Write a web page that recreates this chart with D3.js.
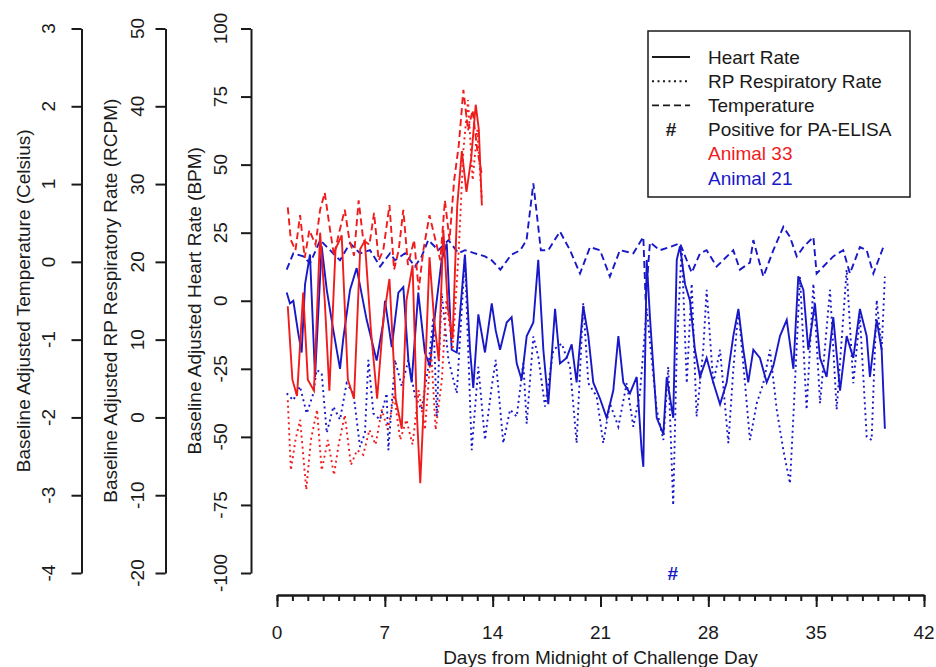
<!DOCTYPE html>
<html>
<head>
<meta charset="utf-8">
<script src="https://cdn.jsdelivr.net/npm/d3@7"></script>
<style>
	body { margin: 0; background: #fff; }
	svg { font-family: "Liberation Sans", Arial, sans-serif; }
</style>
</head>
<body>
<svg id="chart" width="936" height="667"></svg>
<script>

// tick values for the four axes
const dayTicks = [0, 7, 14, 21, 28, 35, 42];
const hrTicks = [-100, -75, -50, -25, 0, 25, 50, 75, 100];
const rrTicks = [-20, -10, 0, 10, 20, 30, 40, 50];
const tempTicks = [-4, -3, -2, -1, 0, 1, 2, 3];

// Animal 21 (blue) : [day, value]
const hr21 = [[0.63,3],[0.84,-1],[1.06,0],[1.38,-12],[1.6,-19],[1.82,6],[2.14,17],[2.47,-28],[2.9,20],[3.23,4],[3.66,-11],[4.09,-25],[4.3,-14],[4.74,4],[5.17,12],[5.82,-7],[6.47,-22],[6.9,-8],[7.01,0],[7.45,-17],[7.88,3],[8.2,5],[8.53,-22],[8.74,-30],[9.17,3],[9.6,-19],[9.93,-24],[10.26,-5],[10.69,15],[11.02,21],[11.34,-18],[11.67,-19],[12.2,17],[12.53,-18],[12.74,-32],[13.07,-5],[13.5,-19],[13.94,-1],[14.2,-11],[14.48,-18],[14.91,-8],[15.23,-6],[15.56,-23],[15.88,-29],[16.21,-13],[16.64,-8],[16.96,15],[17.29,-18],[17.61,-38],[18.05,-3],[18.37,-23],[18.8,-21],[19.13,-16],[19.45,-30],[19.88,-2],[20.21,-13],[20.53,-30],[20.97,-36],[21.4,-43],[21.83,-33],[22.16,-13],[22.48,-30],[22.91,-34],[23.35,-28],[23.67,-55],[23.78,-61],[24.0,15],[24.21,-6],[24.65,-43],[25.08,-49],[25.3,-28],[25.72,-43],[25.95,15],[26.16,20],[26.49,6],[26.81,0],[27.13,-18],[27.46,-28],[27.89,-21],[28.32,-30],[28.76,-38],[29.19,-30],[29.62,-13],[29.95,-3],[30.27,-18],[30.59,-30],[30.92,-18],[31.35,-21],[31.79,-30],[32.22,-24],[32.65,-13],[33.09,-7],[33.52,-25],[33.84,9],[34.17,4],[34.49,-18],[34.92,-1],[35.25,-21],[35.68,-28],[36.11,-6],[36.55,-33],[36.98,-13],[37.41,-21],[37.84,-3],[38.28,-13],[38.49,-28],[38.93,-7],[39.25,-18],[39.46,-47]];

const rr21 = [[0.63,3.1],[1.06,2.2],[1.49,4.0],[1.93,0.5],[2.36,3.1],[2.57,6.1],[2.9,5.7],[3.23,-2.0],[3.66,1.4],[4.09,-0.3],[4.52,4.4],[4.96,3.1],[5.39,-3.8],[5.71,-2.0],[5.93,7.4],[6.26,0.5],[6.69,-0.3],[7.12,3.1],[7.23,-4.2],[7.66,7.4],[8.1,4.0],[8.53,7.4],[8.96,2.7],[9.39,1.0],[9.82,6.5],[10.15,12.9],[10.37,0.1],[10.69,16],[11.13,7.4],[11.67,3.1],[12.2,20.7],[12.64,-4.2],[13.07,6.5],[13.5,-2.9],[13.94,4.0],[14.2,7.4],[14.69,-3.3],[15.13,1.0],[15.56,0.1],[15.99,7.0],[16.21,-0.8],[16.64,10.4],[16.96,7.8],[17.4,1.4],[17.94,8.7],[18.48,9.5],[19.02,6.5],[19.45,-3.3],[19.88,14.7],[20.21,4.4],[20.75,2.7],[21.18,-3.3],[21.61,1.8],[22.16,-1.2],[22.7,4.4],[23.13,-1.2],[23.56,3.1],[24.0,14],[24.65,1.0],[25.08,-2.9],[25.4,6.5],[25.72,-11.3],[25.95,8.7],[26.27,22],[26.6,4.4],[26.92,17.2],[27.24,0.1],[27.67,8.7],[27.89,16.4],[28.32,4.4],[28.76,8.7],[29.3,-3.3],[29.62,6.1],[29.95,13.8],[30.38,4.4],[30.7,-2.9],[31.14,1.8],[31.57,4.4],[32.0,8.7],[32.44,1.0],[32.87,-4.2],[33.3,-8.5],[33.52,0.1],[33.95,18.1],[34.38,1.0],[34.82,17.2],[35.25,1.8],[35.9,16.4],[36.33,1.0],[36.98,19.0],[37.41,4.4],[37.84,13],[38.28,-2.5],[38.6,-2.9],[38.93,15.1],[39.25,8.7],[39.46,18.1]];

const temp21 = [[0.63,-0.10],[1.06,0.11],[1.71,0.07],[2.14,-0.02],[2.81,0.28],[3.44,0.15],[4.09,0.02],[4.74,0.24],[5.39,0.11],[6.04,0.15],[6.69,-0.06],[7.34,0.11],[7.66,0.02],[8.31,0.11],[8.96,-0.06],[9.39,0.07],[9.82,0.28],[10.47,0.15],[11.13,0.28],[11.78,0.11],[12.2,0.15],[12.85,0.11],[13.5,0.07],[13.94,0.02],[14.5,-0.1],[15.2,0.09],[15.8,0.15],[16.2,0.28],[16.64,1.01],[17.13,0.15],[17.61,0.15],[18.37,0.39],[19.02,0.15],[19.67,-0.15],[20.32,0.19],[20.97,0.15],[21.61,-0.19],[22.26,0.15],[23.13,0.11],[23.78,0.32],[23.93,-0.49],[24.21,0.25],[24.86,0.15],[25.51,0.19],[26.16,0.24],[26.92,-0.14],[27.46,0.11],[27.89,0.15],[28.54,-0.06],[29.62,0.15],[30.05,-0.1],[30.7,-0.01],[30.92,0.28],[31.57,-0.19],[32.22,0.15],[32.87,0.45],[33.3,0.32],[33.74,0.07],[34.17,0.19],[34.82,0.32],[35.03,-0.15],[35.47,-0.06],[36.11,0.07],[36.76,0.15],[37.19,-0.15],[37.84,0.19],[38.28,0.15],[38.71,-0.15],[39.36,0.19]];

// Animal 33 (red)
const hr33 = [[0.7,-2],[1.0,-29],[1.3,-35],[1.7,3],[2.0,-29],[2.4,-33],[2.8,25],[3.1,0],[3.4,-33],[3.8,19],[4.2,24],[4.6,-29],[5.0,-36],[5.4,19],[5.7,22],[6.1,-11],[6.5,-36],[6.9,-7],[7.3,8],[7.7,-36],[8.1,-47],[8.4,0],[8.8,13],[9.1,-44],[9.3,-67],[9.6,-29],[9.9,16],[10.2,-7],[10.5,-22],[10.8,26],[11.1,-3],[11.4,-14],[11.7,35],[12.0,55],[12.3,40],[12.6,52],[12.9,72],[13.1,63],[13.3,35]];

const rr33 = [[0.7,2.2],[0.9,-6.8],[1.2,-2.9],[1.5,-0.3],[1.9,-9.3],[2.2,-2.9],[2.6,1.0],[2.9,-6.8],[3.3,-2.9],[3.7,-7.4],[4.0,-3.5],[4.4,0.3],[4.8,-6.1],[5.2,-4.2],[5.6,-4.8],[6.0,-1.6],[6.4,-3.5],[6.8,1.0],[7.2,-1.6],[7.6,2.9],[8.0,-2.9],[8.4,-0.3],[8.8,-3.5],[9.2,3.5],[9.6,-1.6],[10.0,8.7],[10.3,-1.6],[10.7,4.8],[11.0,15.1],[11.4,8.7],[11.8,21.5],[12.1,34.4],[12.4,40.8],[12.7,30.5],[13.0,37],[13.3,28]];

const temp33 = [[0.7,0.70],[0.9,0.28],[1.2,0.15],[1.5,0.60],[1.8,0.05],[2.1,0.41],[2.5,0.22],[2.8,0.67],[3.1,0.89],[3.4,0.47],[3.7,0.08],[4.0,0.35],[4.4,0.67],[4.7,0.28],[5.0,0.08],[5.3,0.79],[5.6,0.28],[6.0,0.22],[6.3,0.63],[6.6,0.02],[6.9,0.15],[7.3,0.73],[7.6,-0.1],[7.9,0.15],[8.2,0.67],[8.5,-0.04],[8.9,0.28],[9.2,-0.36],[9.5,0.15],[9.9,0.6],[10.2,0.35],[10.6,0.02],[10.9,0.79],[11.2,0.28],[11.5,1.05],[11.8,1.5],[12.1,2.21],[12.4,1.69],[12.7,1.95],[13.0,1.44],[13.3,1.12]];

// day of positive PA-ELISA result for animal 21
const elisaDays = [25.7];

const legendItems = ['Heart Rate', 'RP Respiratory Rate', 'Temperature', 'Positive for PA-ELISA', 'Animal 33', 'Animal 21'];

//////////////////////////////////////////////////////////////////////

const blue = '#1818c8';
const red = '#f01c1c';
const ink = '#1a1a1a';
const dashed = '7,4';
const dotted = '2,3.5';

const svg = d3.select('#chart');
const yTop = 28.5, yBottom = 573;

const x = d3.scaleLinear().domain([0, 42]).range([277, 924]);
const yHR = d3.scaleLinear().domain([-100, 100]).range([yBottom, yTop]);
const yRR = d3.scaleLinear().domain([-20, 50]).range([yBottom, yTop]);
const yTemp = d3.scaleLinear().domain([-4, 3]).range([yBottom, yTop]);

function styleAxis(g) {
	g.select('.domain').attr('stroke', ink).attr('stroke-width', 2);
	g.selectAll('.tick line').attr('stroke', ink).attr('stroke-width', 2);
}

function drawLeftAxis(scale, ticks, axisX, labelX, title, titleX) {

	const g = svg.append('g').attr('transform', 'translate(' + axisX + ',0)');
	g.call(d3.axisLeft(scale).tickValues(ticks).tickSize(10).tickSizeOuter(0).tickFormat(() => ''));
	styleAxis(g);

	svg.append('g')
		.selectAll('text')
		.data(ticks)
		.join('text')
		.attr('transform', d => 'translate(' + labelX + ',' + scale(d) + ') rotate(-90)')
		.attr('text-anchor', 'middle')
		.attr('dy', '0.35em')
		.attr('font-size', 19)
		.attr('fill', ink)
		.text(d => d);

	svg.append('text')
		.attr('transform', 'translate(' + titleX + ',' + (yTop + yBottom) / 2 + ') rotate(-90)')
		.attr('text-anchor', 'middle')
		.attr('dy', '0.35em')
		.attr('font-size', 19)
		.attr('fill', ink)
		.text(title);
}

function drawSeries(points, scale, color, dash) {

	const line = d3.line()
		.x(d => x(d[0]))
		.y(d => scale(d[1]));

	svg.append('path')
		.datum(points)
		.attr('d', line)
		.attr('fill', 'none')
		.attr('stroke', color)
		.attr('stroke-width', 1.9)
		.attr('stroke-dasharray', dash);
}

// y axes
drawLeftAxis(yTemp, tempTicks, 81.5, 48, 'Baseline Adjusted Temperature (Celsius)', 23);
drawLeftAxis(yRR, rrTicks, 165.5, 137, 'Baseline Adjusted RP Respiratory Rate (RCPM)', 110);
drawLeftAxis(yHR, hrTicks, 251, 220, 'Baseline Adjusted Heart Rate (BPM)', 194);

// x axis: daily minor ticks plus weekly labelled ticks
const xAxisY = 595;
const gMinor = svg.append('g').attr('transform', 'translate(0,' + xAxisY + ')');
gMinor.call(d3.axisBottom(x).tickValues(d3.range(0, 43)).tickSize(6).tickSizeOuter(0).tickFormat(() => ''));
styleAxis(gMinor);
const gMajor = svg.append('g').attr('transform', 'translate(0,' + xAxisY + ')');
gMajor.call(d3.axisBottom(x).tickValues(dayTicks).tickSize(12).tickSizeOuter(0).tickFormat(() => ''));
styleAxis(gMajor);

svg.append('g')
	.selectAll('text')
	.data(dayTicks)
	.join('text')
	.attr('x', d => x(d))
	.attr('y', 632)
	.attr('dy', '0.35em')
	.attr('text-anchor', 'middle')
	.attr('font-size', 19)
	.attr('fill', ink)
	.text(d => d);

svg.append('text')
	.attr('x', (x.range()[0] + x.range()[1]) / 2)
	.attr('y', 657)
	.attr('dy', '0.35em')
	.attr('text-anchor', 'middle')
	.attr('font-size', 19)
	.attr('fill', ink)
	.text('Days from Midnight of Challenge Day');

// series: animal 21 first, animal 33 over it
drawSeries(temp21, yTemp, blue, dashed);
drawSeries(rr21, yRR, blue, dotted);
drawSeries(hr21, yHR, blue, null);
drawSeries(temp33, yTemp, red, dashed);
drawSeries(rr33, yRR, red, dotted);
drawSeries(hr33, yHR, red, null);

// ELISA marker
svg.append('g')
	.selectAll('text')
	.data(elisaDays)
	.join('text')
	.attr('x', d => x(d))
	.attr('y', yHR(-100))
	.attr('dy', '0.35em')
	.attr('text-anchor', 'middle')
	.attr('font-size', 19)
	.attr('font-weight', 'bold')
	.attr('fill', blue)
	.text('#');

// Legend
const legend = svg.append('g').attr('transform', 'translate(648,31)');
legend.append('rect')
	.attr('width', 262)
	.attr('height', 166)
	.attr('fill', '#fff')
	.attr('stroke', ink)
	.attr('stroke-width', 1.5);

const rowY = d3.scaleLinear().domain([0, 5]).range([26, 147]);
const sampleDash = [null, dotted, dashed];
const rowColor = [ink, ink, ink, ink, red, blue];

legend.selectAll('line.sample')
	.data(sampleDash)
	.join('line')
	.classed('sample', true)
	.attr('x1', 4)
	.attr('x2', 42)
	.attr('y1', (d, i) => rowY(i))
	.attr('y2', (d, i) => rowY(i))
	.attr('stroke', ink)
	.attr('stroke-width', 1.9)
	.attr('stroke-dasharray', d => d);

legend.append('text')
	.attr('x', 23)
	.attr('y', rowY(3))
	.attr('dy', '0.35em')
	.attr('text-anchor', 'middle')
	.attr('font-size', 19)
	.attr('font-weight', 'bold')
	.attr('fill', ink)
	.text('#');

legend.selectAll('text.item')
	.data(legendItems)
	.join('text')
	.classed('item', true)
	.attr('x', 60)
	.attr('y', (d, i) => rowY(i))
	.attr('dy', '0.35em')
	.attr('font-size', 19)
	.attr('fill', (d, i) => rowColor[i])
	.text(d => d);

</script>
</body>
</html>
